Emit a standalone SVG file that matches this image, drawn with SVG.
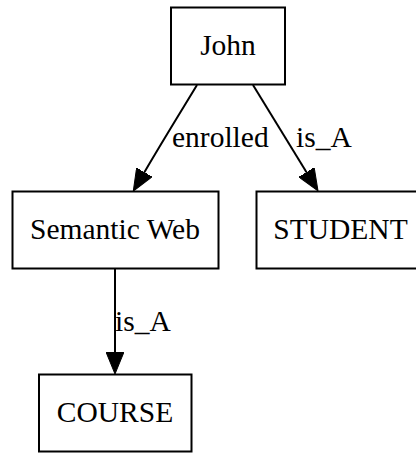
<svg xmlns="http://www.w3.org/2000/svg" width="416" height="453" viewBox="0 0 416 453">
  <style>
    .box { fill: #ffffff; stroke: #000000; stroke-width: 2; }
    .lbl { font-family: "Liberation Serif", "Times New Roman", serif; font-size: 29.5px; fill: #000000; }
    .edge { fill: none; stroke: #000000; stroke-width: 2; }
  </style>
  <defs>
    <marker id="arrow" viewBox="0 0 22 18" refX="0" refY="9" markerWidth="22" markerHeight="18" markerUnits="userSpaceOnUse" orient="auto">
      <path d="M0,0 L22,9 L0,18 Z" fill="#000000" stroke="#000000" stroke-width="1"/>
    </marker>
  </defs>
  <rect width="416" height="453" fill="#ffffff"/>

  <g id="connectors">
    <path class="edge" d="M197,85 C188,100 165,137 144.4,172.2" marker-end="url(#arrow)"/>
    <text class="lbl" x="172" y="146.5">enrolled</text>
    <path class="edge" d="M253,85 L306.5,172.2" marker-end="url(#arrow)"/>
    <text class="lbl" x="296" y="146.5">is_A</text>
    <path class="edge" d="M115,269 L115,352" marker-end="url(#arrow)"/>
    <text class="lbl" x="115" y="331">is_A</text>
  </g>

  <g id="john">
    <rect class="box" x="171" y="7.5" width="114" height="77"/>
    <text class="lbl" x="228" y="55" text-anchor="middle">John</text>
  </g>
  <g id="semantic-web">
    <rect class="box" x="12.5" y="191.5" width="206" height="77"/>
    <text class="lbl" x="115" y="239" text-anchor="middle">Semantic Web</text>
  </g>
  <g id="student">
    <rect class="box" x="256.5" y="191.5" width="170" height="77"/>
    <text class="lbl" x="340.5" y="239" text-anchor="middle">STUDENT</text>
  </g>
  <g id="course">
    <rect class="box" x="39" y="374.5" width="152.5" height="77"/>
    <text class="lbl" x="115" y="422" text-anchor="middle">COURSE</text>
  </g>
</svg>
